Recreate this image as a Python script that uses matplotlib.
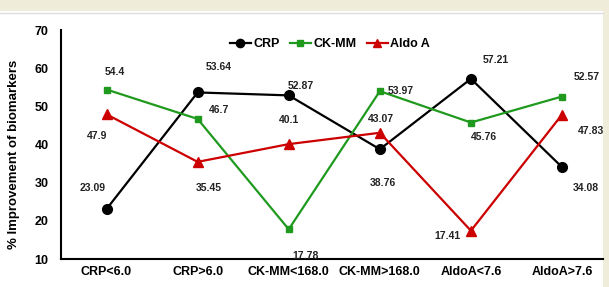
import matplotlib.pyplot as plt
import matplotlib.patches as patches

# data
categories = ['CRP<6.0', 'CRP>6.0', 'CK-MM<168.0', 'CK-MM>168.0', 'AldoA<7.6', 'AldoA>7.6']
crp = [23.09, 53.64, 52.87, 38.76, 57.21, 34.08]
ckmm = [54.4, 46.7, 17.78, 53.97, 45.76, 52.57]
aldoa = [47.9, 35.45, 40.1, 43.07, 17.41, 47.83]
y_ticks = [10, 20, 30, 40, 50, 60, 70]

plt.rcParams['font.family'] = ['Liberation Sans', 'DejaVu Sans']
plt.rcParams['font.weight'] = 'bold'

fig = plt.figure(figsize=(6.09, 2.87), dpi=100)
fig.patch.set_facecolor('#f0ecda')

# white panel with thin grey top line
fig.add_artist(patches.Rectangle((0, 0), 603 / 609, 1 - 11 / 287, transform=fig.transFigure,
                                 facecolor='white', edgecolor='none', zorder=0))
fig.add_artist(plt.Line2D([0, 603 / 609], [1 - 13 / 287, 1 - 13 / 287], transform=fig.transFigure,
                          color='#dddddd', lw=1, zorder=1))

ax = fig.add_axes([61 / 609, 28 / 287, 542 / 609, 229 / 287])
ax.set_facecolor('none')

x = list(range(len(categories)))
ax.plot(x, crp, color='black', marker='o', ms=7, lw=1.6, label='CRP', zorder=3)
ax.plot(x, ckmm, color='#1f9a1f', marker='s', ms=4.5, lw=1.6, label='CK-MM', zorder=3)
ax.plot(x, aldoa, color='#cc0000', marker='^', ms=7.5, lw=1.6, label='Aldo A', zorder=3)

# value labels (offsets in pixels from the point)
crp_off = [(-14, 21), (21, 25), (12, 9), (3, -34), (25, 19), (24, -21)]
ckmm_off = [(8, 18), (21, 9), (17, -27), (21, 0), (13, -14), (25, 20)]
aldo_off = [(-9, -22), (11, -26), (0, 24), (1, 14), (-23, -5), (29, -16)]
for series, offs in [(crp, crp_off), (ckmm, ckmm_off), (aldoa, aldo_off)]:
    for xi, v, off in zip(x, series, offs):
        ax.annotate(f'{v:g}', (xi, v), xytext=off, textcoords='offset pixels',
                    ha='center', va='center', fontsize=7.5, fontweight='bold', color='#222222')

ax.set_xlim(-0.5, 5.45)
ax.set_ylim(10, 70)
ax.set_yticks(y_ticks)
ax.set_xticks(x)
ax.set_xticklabels(categories)
ax.tick_params(axis='both', length=0, labelsize=9)
ax.tick_params(axis='y', pad=9)
ax.tick_params(axis='x', pad=5)
for s in ['top', 'right']:
    ax.spines[s].set_visible(False)
for s in ['left', 'bottom']:
    ax.spines[s].set_linewidth(1.5)
    ax.spines[s].set_color('black')

ax.set_ylabel('% Improvement of biomarkers', fontsize=9.5, fontweight='bold')
ax.yaxis.set_label_coords(-0.075, 0.455)

ax.legend(loc='center', bbox_to_anchor=(0.496, 0.939), ncol=3, frameon=False,
          fontsize=9, markerscale=0.85, handlelength=1.7, handletextpad=0.2, columnspacing=0.8)

fig.savefig('out.png', dpi=100, facecolor=fig.get_facecolor())
